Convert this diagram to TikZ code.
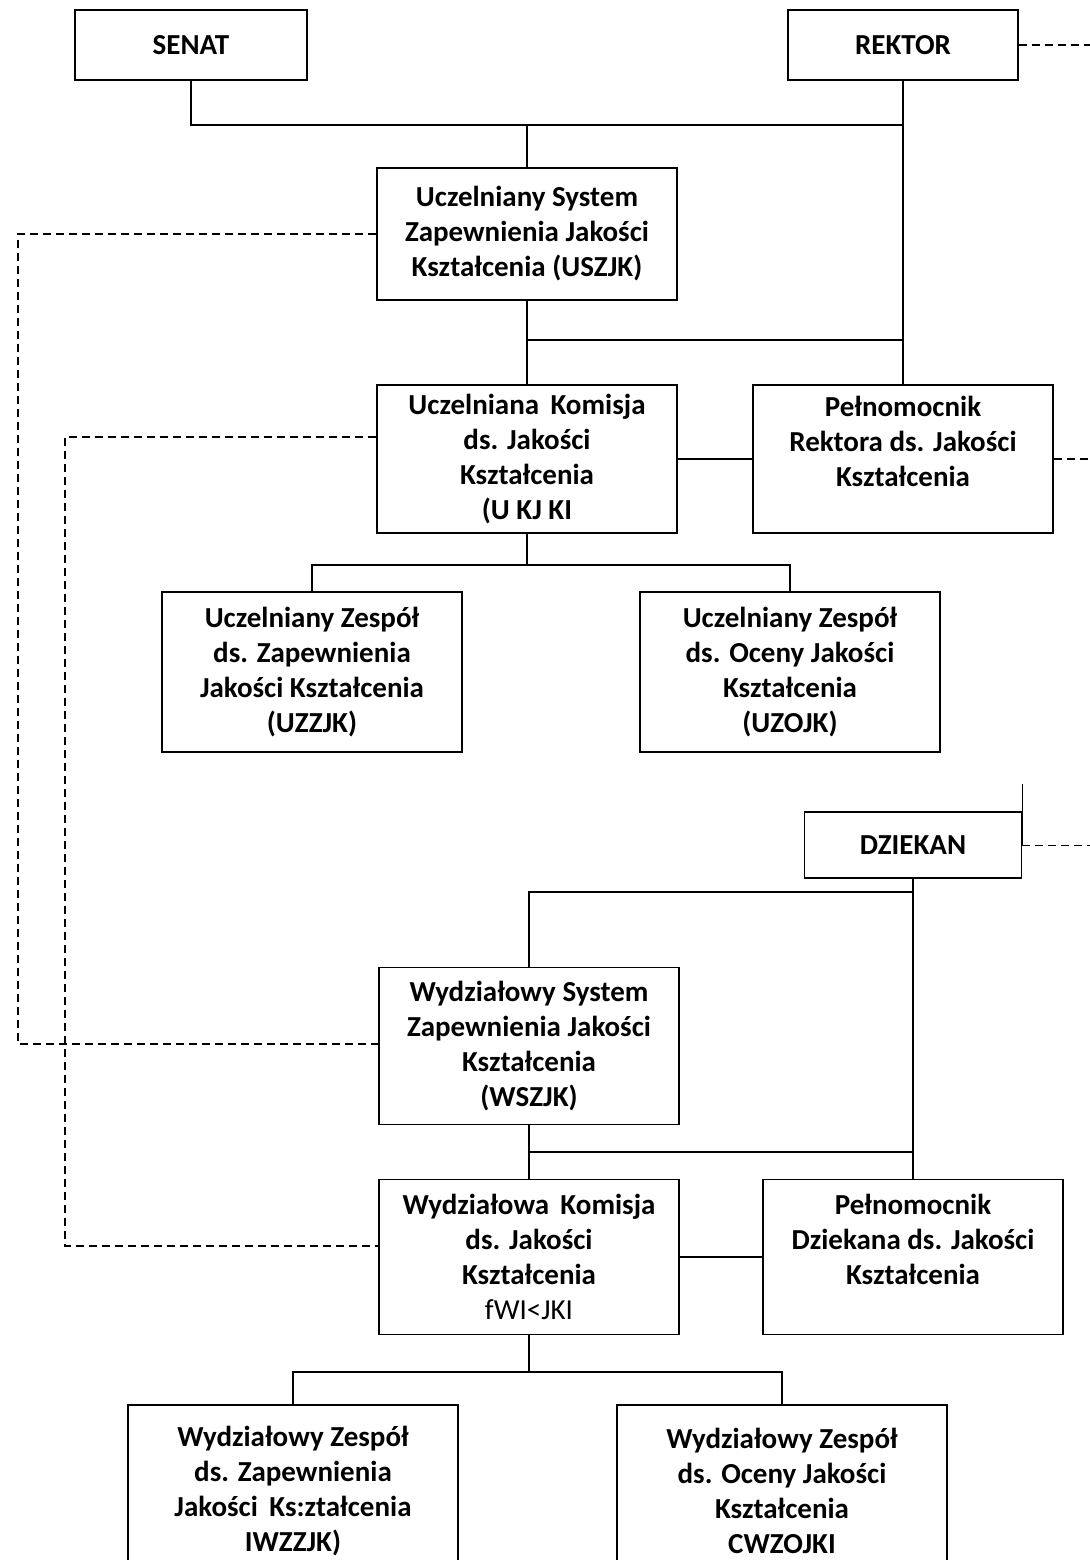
\documentclass[tikz,border=0pt]{standalone}
\usepackage{fontspec}
\setmainfont{Carlito}
\begin{document}
\begin{tikzpicture}[x=0.5pt, y=-0.5pt, thick,
    main/.style = {draw, rectangle, align=center, inner sep=0pt,
      font=\bfseries\fontsize{14.5}{17.5}\selectfont},
    wide/.style = {main, minimum width=150pt},
    link/.style = {dash pattern=on 4pt off 2.5pt}]
\useasboundingbox (0,0) rectangle (1090,1560);
\clip (0,0) rectangle (1090,1560);
% level of the university
\node[main, minimum width=116pt, minimum height=35pt] (senat) at (191,45) {SENAT};
\node[main, minimum width=115pt, minimum height=35pt] (rektor) at (903,45) {REKTOR};
\node[wide, minimum height=66pt] (uszjk) at (527,234) {Uczelniany System\\Zapewnienia Jakości\\Kształcenia (USZJK)};
\node[wide, minimum height=74pt] (ukjk) at (527,459) {Uczelniana\, Komisja\\ds. Jakości\\Kształcenia\\(U KJ KI};
\node[wide, minimum height=74pt] (pelr) at (903,459) {Pełnomocnik\\Rektora ds. Jakości\\Kształcenia\\~};
\node[wide, minimum height=80pt] (uzzjk) at (312,672) {Uczelniany Zespół\\ds. Zapewnienia\\Jakości Kształcenia\\(UZZJK)};
\node[wide, minimum height=80pt] (uzojk) at (790,672) {Uczelniany Zespół\\ds. Oceny Jakości\\Kształcenia\\(UZOJK)};
% level of the faculty
\node[main, minimum width=108.5pt, minimum height=33pt] (dziekan) at (913,845) {DZIEKAN};
\node[wide, minimum height=78.5pt] (wszjk) at (529,1046) {Wydziałowy System\\Zapewnienia Jakości\\Kształcenia\\(WSZJK)};
\node[wide, minimum height=77.5pt] (wkjk) at (529,1257) {Wydziałowa\, Komisja\\ds. Jakości\\Kształcenia\\{\mdseries fWI<JKI}};
\node[wide, minimum height=77.5pt] (peld) at (913,1257) {Pełnomocnik\\Dziekana ds. Jakości\\Kształcenia\\~};
\node[main, minimum width=165pt, minimum height=86pt] (wzzjk) at (293,1491) {Wydziałowy Zespół\\ds. Zapewnienia\\Jakości\, Ks:ztałcenia\\IWZZJK)};
\node[main, minimum width=165pt, minimum height=86pt] (wzojk) at (782,1491) {Wydziałowy Zespół\\ds. Oceny Jakości\\Kształcenia\\CWZOJKI};
% solid connectors
\draw (senat.south) |- (rektor.south |- 0,125);
\draw (rektor.south) -- (pelr.north);
\draw (uszjk.north) -- (uszjk.north |- 0,125);
\draw (uszjk.south) -- (ukjk.north);
\draw (uszjk.south |- 0,340) -- (pelr.north |- 0,340);
\draw (ukjk) -- (pelr);
\draw (ukjk.south) -- (ukjk.south |- 0,565);
\draw (uzzjk.north) |- (uzojk.north |- 0,565) -- (uzojk.north);
\draw (dziekan.south) -- (peld.north);
\draw (wszjk.north) |- (dziekan.south |- 0,892);
\draw (wszjk.south) -- (wkjk.north);
\draw (wszjk.south |- 0,1152) -- (peld.north |- 0,1152);
\draw (wkjk) -- (peld);
\draw (wkjk.south) -- (wkjk.south |- 0,1372);
\draw (wzzjk.north) |- (wzojk.north |- 0,1372) -- (wzojk.north);
% dashed connectors
\draw[link] (uszjk.west) -| (18,1044) -- (wszjk.west |- 0,1044);
\draw[link] ([yshift=11pt]ukjk.west) -| (65,1246) -- (wkjk.west |- 0,1246);
\draw[link] (rektor.east) -- (1090,45);
\draw[link] (pelr.east) -- (1090,459);
\draw ([yshift=13.5pt]dziekan.north east) -- (dziekan.east);
\draw[link, thin] (dziekan.east) -- (dziekan.east -| 1090,0);
\end{tikzpicture}
\end{document}
